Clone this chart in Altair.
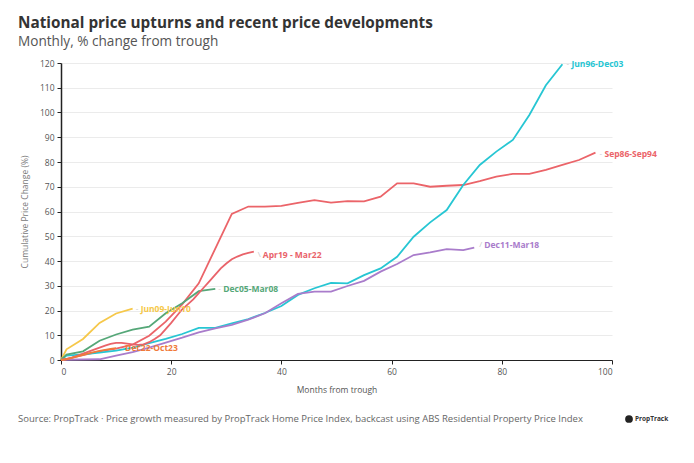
import altair as alt
import pandas as pd

FONT = "Open Sans"

# ---- data ----
series_names = ["Sep86-Sep94", "Jun96-Dec03", "Jun09-Jun10", "Dec05-Mar08",
                "Dec11-Mar18", "Apr19 - Mar22", "Dec22-Oct23"]
series_colors = ["#EB6469", "#27C6D3", "#F6C84A", "#55A778",
                 "#A97CCB", "#E9636A", "#F07A3A"]

sep86_x = [0, 1, 4, 7, 10, 13, 16, 19, 22, 25, 28, 31, 34, 37, 40, 43, 46, 49, 52, 55,
           58, 61, 64, 67, 70, 73, 76, 79, 82, 85, 88, 91, 94, 97]
sep86_y = [0, 0.5, 2.0, 3.5, 4.6, 6.2, 9.8, 15.5, 22.5, 31.0, 45.0, 59.0, 62.0, 62.0,
           62.3, 63.5, 64.6, 63.6, 64.2, 64.1, 66.0, 71.4, 71.4, 70.0, 70.4, 70.7,
           72.3, 74.1, 75.2, 75.2, 76.8, 78.8, 80.8, 83.8]

jun96_x = [0, 1, 4, 7, 10, 13, 16, 19, 22, 25, 28, 31, 34, 37, 40, 43, 46, 49, 52, 55,
           58, 61, 64, 67, 70, 73, 76, 79, 82, 85, 88, 91]
jun96_y = [0, 1.8, 2.3, 3.0, 3.8, 5.0, 6.8, 8.5, 10.5, 13.0, 13.0, 14.8, 16.5, 19.0,
           21.8, 26.3, 29.0, 31.2, 31.0, 34.3, 37.0, 41.7, 49.8, 55.6, 60.6, 70.7,
           78.8, 84.2, 88.9, 99.0, 111.0, 119.5]

jun09_x = [0, 1, 4, 7, 10, 13]
jun09_y = [0, 4.3, 8.5, 15.0, 18.8, 20.8]

dec05_x = [0, 1, 4, 7, 10, 13, 16, 19, 22, 25, 28]
dec05_y = [0, 2.2, 3.5, 7.8, 10.3, 12.3, 13.5, 18.9, 22.9, 27.8, 28.7]

dec11_x = [0, 1, 4, 7, 10, 13, 16, 19, 22, 25, 28, 31, 34, 37, 40, 43, 46, 49, 52, 55,
           58, 61, 64, 67, 70, 73, 75]
dec11_y = [0, 0.1, 0.2, 0.3, 1.8, 3.2, 5.0, 7.0, 9.0, 11.2, 12.8, 14.2, 16.3, 18.9,
           22.9, 26.7, 27.6, 27.6, 29.9, 32.0, 35.7, 38.8, 42.4, 43.5, 44.8, 44.4, 45.4]

apr19_x = list(range(0, 36))
apr19_y = [0, 0.4, 1.0, 1.8, 2.6, 3.4, 4.2, 5.0, 5.8, 6.5, 6.9, 6.9, 6.6, 6.3, 6.1,
           6.3, 7.2, 8.5, 10.0, 12.5, 15.0, 17.8, 20.5, 22.5, 24.5, 27.0, 29.5, 32.0,
           34.5, 37.0, 39.0, 40.7, 41.8, 42.7, 43.3, 43.8]

dec22_x = list(range(0, 11))
dec22_y = [0, 0.3, 0.9, 1.5, 2.1, 2.7, 3.2, 3.7, 4.1, 4.5, 4.8]

x_ticks = [0, 20, 40, 60, 80, 100]
y_ticks = list(range(0, 121, 10))

title_text = "National price upturns and recent price developments"
subtitle_text = "Monthly, % change from trough"
source_text = ("Source: PropTrack \u00b7 Price growth measured by PropTrack Home Price Index, "
               "backcast using ABS Residential Property Price Index")

all_x = [sep86_x, jun96_x, jun09_x, dec05_x, dec11_x, apr19_x, dec22_x]
all_y = [sep86_y, jun96_y, jun09_y, dec05_y, dec11_y, apr19_y, dec22_y]

rows = []
for name, xs, ys in zip(series_names, all_x, all_y):
    for x, y in zip(xs, ys):
        rows.append({"series": name, "month": x, "change": y})
df = pd.DataFrame(rows)

color_scale = alt.Scale(domain=series_names, range=series_colors)
x_scale = alt.Scale(domain=[0, 100], nice=False)
y_scale = alt.Scale(domain=[0, 120], nice=False)

x_axis = alt.Axis(values=x_ticks, title="Months from trough", grid=False,
                  domainColor="#222", domainWidth=1.2, tickColor="#222",
                  tickSize=4, labelColor="#555", labelFont=FONT,
                  labelFontSize=8.5, labelPadding=3, labelOverlap=False,
                  titleFont=FONT, titleFontSize=8.5, titleFontWeight="normal",
                  titleColor="#555", titlePadding=10)
y_axis = alt.Axis(values=y_ticks, title="Cumulative Price Change (%)", grid=True,
                  gridColor="#ebebeb", domainColor="#222", domainWidth=1.5,
                  tickColor="#222", tickSize=4, labelColor="#555",
                  labelFont=FONT, labelFontSize=8.5, labelPadding=3,
                  labelOverlap=False,
                  titleFont=FONT, titleFontSize=8.5, titleFontWeight="normal",
                  titleColor="#777", titlePadding=10)

lines = alt.Chart(df).mark_line(strokeWidth=1.8, clip=False).encode(
    x=alt.X("month:Q", scale=x_scale, axis=x_axis),
    y=alt.Y("change:Q", scale=y_scale, axis=y_axis),
    color=alt.Color("series:N", scale=color_scale, legend=None),
    order="month:Q",
)

# end labels
label_dx = [9, 9, 8, 8, 10, 9, 9]
label_dy = [1, 0, 0, 0, -3, 3, 0]
leader_chars = ["-", "-", "-", "-", "/", "\\", "-"]

end_rows = []
for name, xs, ys in zip(series_names, all_x, all_y):
    end_rows.append({"series": name, "month": xs[-1], "change": ys[-1]})
end_df = pd.DataFrame(end_rows)

layers = [lines]
for i, name in enumerate(series_names):
    sub = end_df[end_df["series"] == name]
    base = alt.Chart(sub).encode(
        x=alt.X("month:Q", scale=x_scale, axis=x_axis),
        y=alt.Y("change:Q", scale=y_scale, axis=y_axis),
    )
    layers.append(base.mark_text(align="left", baseline="middle", font=FONT,
                                 fontSize=8, color="#c8c8c8",
                                 dx=label_dx[i] - 5, dy=label_dy[i])
                  .encode(text=alt.value(leader_chars[i])))
    layers.append(base.mark_text(align="left", baseline="middle", font=FONT,
                                 fontSize=8.5, fontWeight="bold",
                                 color=series_colors[i], dx=label_dx[i],
                                 dy=label_dy[i])
                  .encode(text="series:N"))

one = pd.DataFrame({"k": [0]})
title = alt.Chart(one).mark_text(align="left", baseline="alphabetic", font=FONT,
                                 fontSize=15.3, fontWeight="bold", color="#333").encode(
    x=alt.value(-43), y=alt.value(-35), text=alt.value(title_text))
subtitle = alt.Chart(one).mark_text(align="left", baseline="alphabetic", font=FONT,
                                    fontSize=13.6, color="#555").encode(
    x=alt.value(-43), y=alt.value(-17), text=alt.value(subtitle_text))
source = alt.Chart(one).mark_text(align="left", baseline="middle", font=FONT,
                                  fontSize=9.5, color="#666").encode(
    x=alt.value(-43), y=alt.value(356), text=alt.value(source_text))
logo_dot = alt.Chart(one).mark_point(filled=True, size=60, color="#222", opacity=1).encode(
    x=alt.value(568), y=alt.value(356))
logo_text = alt.Chart(one).mark_text(align="left", baseline="middle", font=FONT,
                                     fontSize=6.5, fontWeight="bold", color="#333").encode(
    x=alt.value(574), y=alt.value(356), text=alt.value("PropTrack"))

layers += [title, subtitle, source, logo_dot, logo_text]

chart = alt.layer(*layers).properties(
    width=551, height=297,
    background="white",
    autosize=alt.AutoSizeParams(type="none"),
    padding={"left": 53, "top": 55, "right": 74, "bottom": 95},
).configure_view(stroke="transparent", strokeWidth=0)

chart.save("out.html", embed_options={"renderer": "svg", "actions": False})
